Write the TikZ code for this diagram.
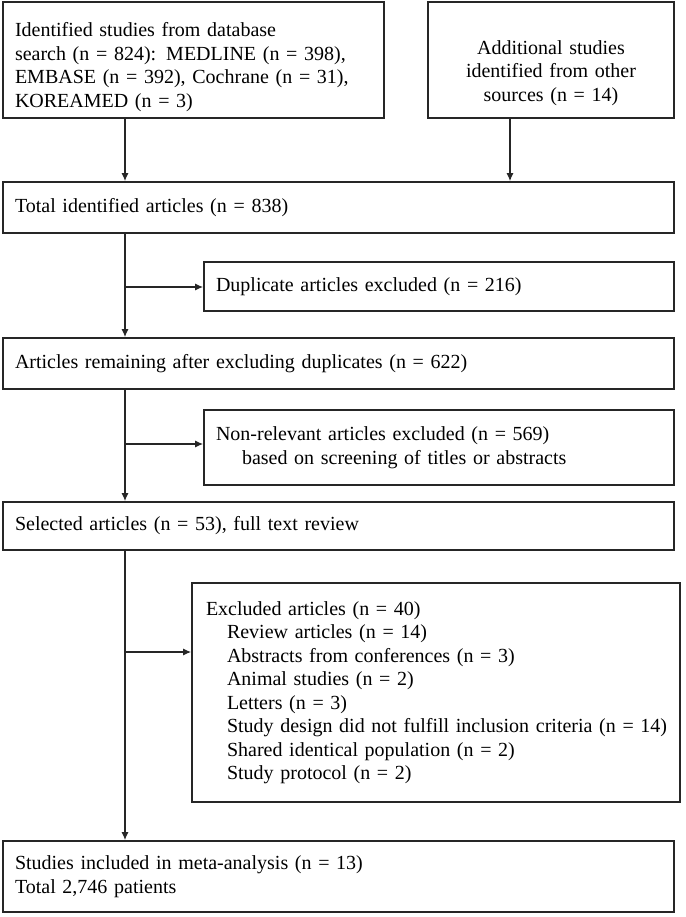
\documentclass[tikz,border=0pt]{standalone}
\usepackage{fontspec}
\setmainfont{Liberation Serif}
\usetikzlibrary{arrows.meta}

\begin{document}
\begin{tikzpicture}[x=1pt, y=-1pt,
  font=\fontsize{20}{23.5}\selectfont,
  box/.style={draw=black!85, line width=1.6pt, inner xsep=12pt, inner ysep=0pt, align=left},
  arr/.style={draw=black!85, line width=1.3pt, -{Latex[length=8pt,width=7pt]}}]
  \useasboundingbox (0,0) rectangle (685,917);
  \node[box, text width=357pt, minimum height=116pt] (search) at (193.5,60)
    {\rule{0pt}{28pt}Identified studies from database\\
     search (n = 824): MEDLINE (n = 398),\\
     EMBASE (n = 392), Cochrane (n = 31),\\
     KOREAMED (n = 3)};
  \node[box, text width=222pt, minimum height=116pt, align=center] (other) at (551,60)
    {\rule{0pt}{40pt}Additional studies\\ identified from other\\ sources (n = 14)};
  \node[box, text width=647pt, minimum height=51pt] (total) at (338.5,207.5)
    {Total identified articles (n = 838)};
  \node[box, text width=446pt, minimum height=49pt] (dup) at (439,286.5)
    {Duplicate articles excluded (n = 216)};
  \node[box, text width=647pt, minimum height=51pt] (remain) at (338.5,363.5)
    {Articles remaining after excluding duplicates (n = 622)};
  \node[box, text width=446pt, minimum height=75pt] (nonrel) at (439,447.5)
    {Non-relevant articles excluded (n = 569)\\
     \hspace*{26pt}based on screening of titles or abstracts};
  \node[box, text width=647pt, minimum height=48pt] (select) at (338.5,526)
    {Selected articles (n = 53), full text review};
  \node[box, text width=460pt, inner xsep=14pt, minimum height=219pt] (excl) at (436,692.5)
    {Excluded articles (n = 40)\\
     \hspace*{21pt}Review articles (n = 14)\\
     \hspace*{21pt}Abstracts from conferences (n = 3)\\
     \hspace*{21pt}Animal studies (n = 2)\\
     \hspace*{21pt}Letters (n = 3)\\
     \hspace*{21pt}\mbox{Study design did not fulfill inclusion criteria (n = 14)}\\
     \hspace*{21pt}Shared identical population (n = 2)\\
     \hspace*{21pt}Study protocol (n = 2)};
  \node[box, text width=647pt, minimum height=71pt] (incl) at (338.5,876.5)
    {Studies included in meta-analysis (n = 13)\\
     Total 2,746 patients};
  \coordinate (spine) at (125,0);
  \coordinate (side) at (510,0);
  \coordinate (j1) at (125,287);
  \coordinate (j2) at (125,444);
  \coordinate (j3) at (125,652);
  \draw[arr] (search.south -| spine) -- (total.north -| spine);
  \draw[arr] (other.south -| side) -- (total.north -| side);
  \draw[arr] (total.south -| spine) -- (remain.north -| spine);
  \draw[arr] (j1) -- (j1 -| dup.west);
  \draw[arr] (remain.south -| spine) -- (select.north -| spine);
  \draw[arr] (j2) -- (j2 -| nonrel.west);
  \draw[arr] (select.south -| spine) -- (incl.north -| spine);
  \draw[arr] (j3) -- (j3 -| excl.west);
\end{tikzpicture}
\end{document}
